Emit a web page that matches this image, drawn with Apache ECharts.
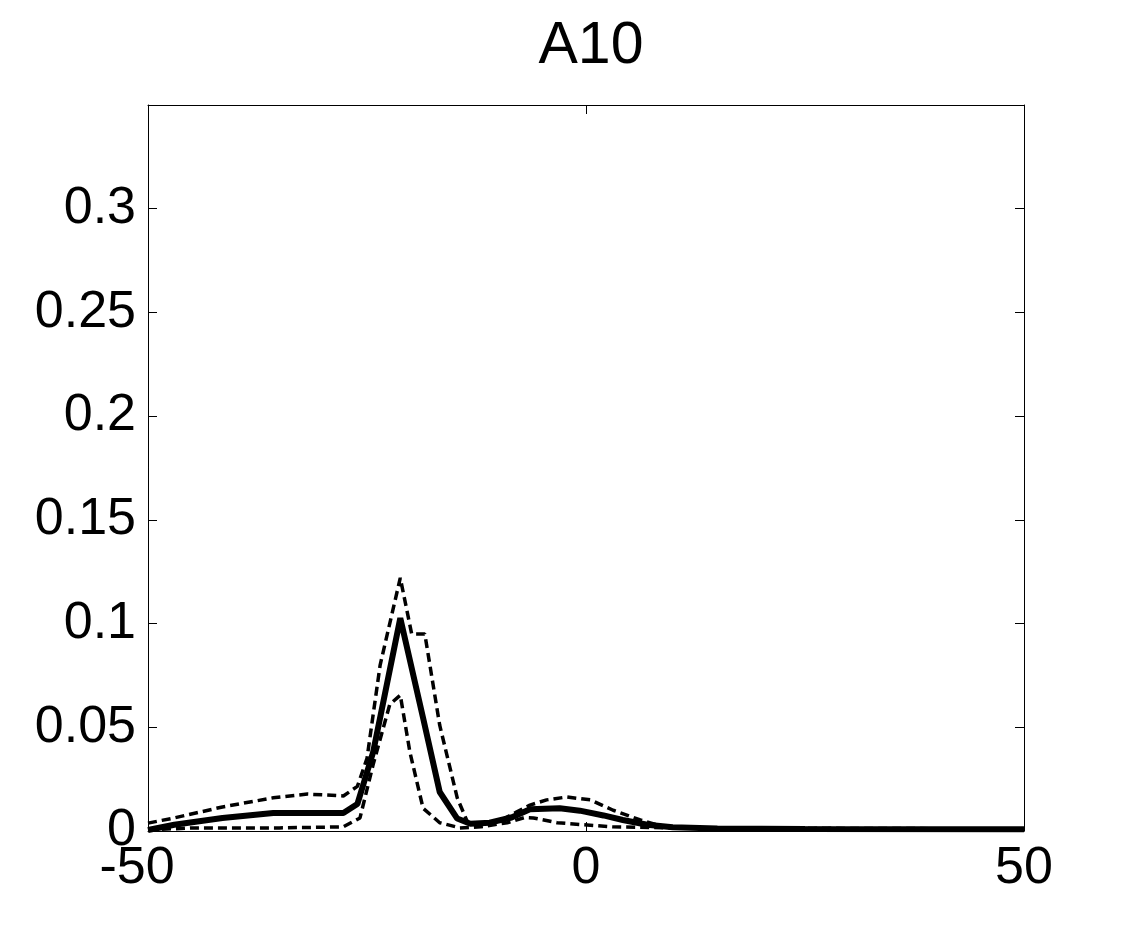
<!DOCTYPE html>
<html>
<head>
<meta charset="utf-8">
<title>A10</title>
<script src="https://cdn.jsdelivr.net/npm/echarts@6/dist/echarts.min.js"></script>
<style>
  html, body { margin: 0; padding: 0; background: #fff; }
  #chart { width: 1132px; height: 936px; }
</style>
</head>
<body>
<div id="chart"></div>
<script>
// mean curve (solid)
const meanX = [-50, -47, -41.5, -35.7, -31.8, -27.7, -26.1, -24.3, -21.2, -18.6, -16.7, -14.7, -13.2, -11, -8.5, -6.4, -3, -0.7, 2, 4.2, 7, 9.9, 15, 25, 50]
const meanY = [0.0005, 0.003, 0.0063, 0.0087, 0.0087, 0.0087, 0.013, 0.038, 0.1026, 0.0545, 0.0188, 0.006, 0.0035, 0.004, 0.0065, 0.0105, 0.011, 0.0098, 0.0075, 0.0053, 0.003, 0.0018, 0.0012, 0.001, 0.0008]

// upper bound (dashed)
const upperX = [-50, -47, -41.5, -35.7, -31.8, -27.7, -26.1, -25, -23.5, -21.2, -19.9, -18.4, -16.7, -14.7, -13.5, -12, -10, -8, -6.4, -4.5, -2.2, 0.5, 3.1, 6.2, 8.1, 10, 20, 50]
const upperY = [0.0038, 0.0063, 0.0116, 0.016, 0.0178, 0.0169, 0.0215, 0.035, 0.08, 0.122, 0.095, 0.095, 0.051, 0.016, 0.004, 0.003, 0.0045, 0.009, 0.0125, 0.015, 0.0164, 0.015, 0.010, 0.0053, 0.003, 0.0016, 0.0012, 0.001]

// lower bound (dashed)
const lowerX = [-50, -45, -35, -27.7, -25.8, -24.3, -22.4, -21.2, -20.1, -18.6, -16.7, -14.4, -12, -9, -7, -6, -3.3, -0.3, 3, 10, 50]
const lowerY = [0.0005, 0.0015, 0.0015, 0.002, 0.0063, 0.032, 0.061, 0.0655, 0.038, 0.011, 0.004, 0.0015, 0.002, 0.004, 0.0065, 0.0063, 0.004, 0.003, 0.002, 0.0015, 0.001]

const xTicks = { min: -50, max: 50, interval: 50 }
const yTicks = { min: 0, max: 0.35, interval: 0.05 }

const font = 'Liberation Sans, Arial, Helvetica, sans-serif'
const toPairs = (xs, ys) => xs.map((x, i) => [x, ys[i]])

const boxAxis = {
  axisLine: { show: true, onZero: false, lineStyle: { color: '#000', width: 1 } },
  axisTick: { show: true, inside: true, length: 9, lineStyle: { color: '#000', width: 1 } },
  splitLine: { show: false }
}

const chart = echarts.init(document.getElementById('chart'))
chart.setOption({
  animation: false,
  backgroundColor: '#fff',
  title: {
    text: 'A10',
    left: 586,
    textAlign: 'center',
    top: 12,
    textStyle: { fontFamily: font, fontSize: 59, fontWeight: 'normal', color: '#000' }
  },
  grid: { left: 148, right: 108, top: 105, bottom: 105 },
  xAxis: [
    {
      type: 'value', position: 'bottom', ...xTicks, ...boxAxis,
      axisLabel: {
        margin: 12, color: '#000', fontFamily: font, fontSize: 52,
        formatter: v => v === -50 ? '{n|-50}' : String(v),
        rich: { n: { fontFamily: font, fontSize: 52, color: '#000', padding: [0, 22, 0, 0] } }
      }
    },
    { type: 'value', position: 'top', ...xTicks, ...boxAxis, axisLabel: { show: false } }
  ],
  yAxis: [
    {
      type: 'value', position: 'left', ...yTicks, ...boxAxis,
      axisLabel: {
        margin: 12, color: '#000', fontFamily: font, fontSize: 52,
        formatter: v => v > 0.33 ? '' : String(+v.toFixed(2))
      }
    },
    { type: 'value', position: 'right', ...yTicks, ...boxAxis, axisLabel: { show: false } }
  ],
  series: [
    {
      type: 'line', data: toPairs(upperX, upperY), showSymbol: false, z: 2,
      lineStyle: { color: '#000', width: 3.5, type: [9, 5] }
    },
    {
      type: 'line', data: toPairs(lowerX, lowerY), showSymbol: false, z: 2,
      lineStyle: { color: '#000', width: 3.5, type: [9, 5] }
    },
    {
      type: 'line', data: toPairs(meanX, meanY), showSymbol: false, z: 3,
      lineStyle: { color: '#000', width: 6 }
    }
  ]
})
</script>
</body>
</html>
